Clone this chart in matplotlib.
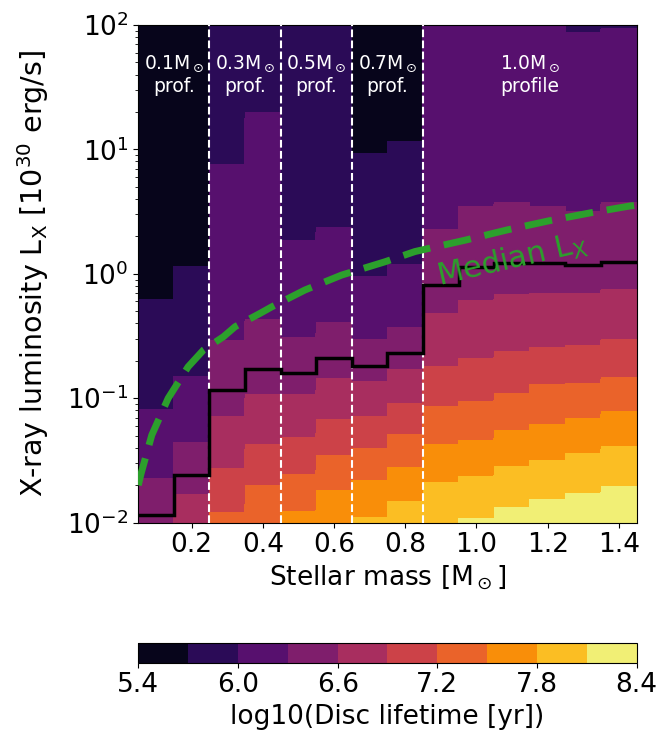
import numpy as np
import matplotlib
matplotlib.use("Agg")
import matplotlib.pyplot as plt

# mass bins (Msun) -- one column per bin
mass_centres = [0.1, 0.2, 0.3, 0.4, 0.5, 0.6, 0.7, 0.8, 0.9, 1.0, 1.1, 1.2, 1.3, 1.4]
mass_edges = [0.05, 0.15, 0.25, 0.35, 0.45, 0.55, 0.65, 0.75, 0.85, 0.95,
              1.05, 1.15, 1.25, 1.35, 1.45]

# lifetime levels log10(t/yr)
levels = [5.4, 5.7, 6.0, 6.3, 6.6, 6.9, 7.2, 7.5, 7.8, 8.1, 8.4]

# index of the lifetime band at the top of each column (Lx = 100)
top_band = [0, 0, 1, 1, 1, 1, 0, 0, 2, 2, 2, 2, 1, 1]

# log10(Lx) where the lifetime crosses into the next band (going down)
band_edges = [
    [-0.21, -1.089, -1.645],
    [0.059, -0.825, -1.357, -1.777],
    [0.881, -0.535, -1.148, -1.567, -1.919],
    [1.296, -0.365, -0.970, -1.371, -1.704],
    [0.266, -0.516, -0.970, -1.312, -1.610, -1.906],
    [0.371, -0.395, -0.841, -1.167, -1.457, -1.744],
    [0.965, -0.024, -0.527, -0.863, -1.145, -1.401, -1.664, -1.957],
    [1.062, 0.073, -0.433, -0.772, -1.043, -1.293, -1.554, -1.831],
    [0.357, -0.317, -0.742, -1.067, -1.371, -1.677],
    [0.540, -0.212, -0.680, -1.027, -1.336, -1.632, -1.970],
    [0.575, -0.164, -0.621, -0.962, -1.261, -1.551, -1.877],
    [0.540, -0.159, -0.589, -0.887, -1.212, -1.498, -1.817],
    [1.941, 0.500, -0.159, -0.573, -0.881, -1.159, -1.446, -1.764],
    [1.973, 0.575, -0.123, -0.524, -0.831, -1.110, -1.387, -1.710],
]

# log10(Lx) of the 3 Myr lifetime in each column (black line)
log_lx_3myr = [-1.938, -1.615, -0.930, -0.764, -0.801, -0.675, -0.737,
               -0.637, -0.09, 0.052, 0.084, 0.089, 0.071, 0.097]

# median Lx relation
median_mass = [0.05, 0.058, 0.088, 0.134, 0.190, 0.233, 0.289, 0.322, 0.392, 0.425,
               0.518, 0.621, 0.743, 0.827, 0.970, 1.085, 1.204, 1.322, 1.431, 1.45]
median_lx = [0.0200, 0.0249, 0.0506, 0.100, 0.179, 0.244, 0.312, 0.376, 0.481, 0.543,
             0.741, 0.977, 1.25, 1.51, 1.87, 2.25, 2.67, 3.10, 3.51, 3.56]

profile_edges = [0.25, 0.45, 0.65, 0.85]
profile_labels = ["0.1M$_\\odot$\nprof.", "0.3M$_\\odot$\nprof.", "0.5M$_\\odot$\nprof.",
                  "0.7M$_\\odot$\nprof.", "1.0M$_\\odot$\nprofile"]
profile_label_x = [0.15, 0.35, 0.55, 0.75, 1.15]

# build lifetime grid from the band crossings
x = np.linspace(0.05, 1.45, 1401)
logy = np.linspace(-2, 2, 1601)
col = np.clip(np.searchsorted(mass_edges, x, side="right") - 1, 0, len(mass_centres) - 1)
profiles = []
for top, edges in zip(top_band, band_edges):
    vals = [levels[top + 1 + k] for k in range(len(edges))]
    xp = [-3.0] + edges[::-1] + [3.0]
    fp = [vals[-1] + 0.15] + vals[::-1] + [levels[top] + 0.15]
    profiles.append(np.interp(logy, xp, fp))
profiles = np.array(profiles)
Z = profiles[col].T
X, Y = np.meshgrid(x, 10 ** logy)

fig = plt.figure(figsize=(6.6, 7.42), dpi=100)
ax = fig.add_axes([0.2095, 0.2956, 0.7552, 0.6707])
cax = fig.add_axes([0.2095, 0.1070, 0.7552, 0.0270])

cf = ax.contourf(X, Y, Z, levels=levels, cmap="inferno")
ax.set_yscale("log")
ax.set_xlim(0.05, 1.45)
ax.set_ylim(1e-2, 1e2)

ax.stairs(10 ** np.array(log_lx_3myr), mass_edges, baseline=None, color="black", lw=2.5, zorder=4)
ax.plot(median_mass, median_lx, color="#2ca02c", lw=5, dashes=(4, 2), zorder=5)
ax.text(1.10, 1.30, "Median L$_\\mathrm{X}$", color="#2ca02c", fontsize=22,
        rotation=13, ha="center", va="center", zorder=5)

for xe in profile_edges:
    ax.axvline(xe, color="white", ls="--", lw=1.5, zorder=3)
for xl, lab in zip(profile_label_x, profile_labels):
    ax.text(xl, 40, lab, color="white", fontsize=13.5, ha="center", va="center")

ax.set_xticks([0.2, 0.4, 0.6, 0.8, 1.0, 1.2, 1.4])
ax.tick_params(labelsize=19)
ax.set_xlabel("Stellar mass [M$_\\odot$]", fontsize=19)
ax.set_ylabel("X-ray luminosity L$_\\mathrm{X}$ [10$^{30}$ erg/s]", fontsize=20.5, labelpad=12)

cb = fig.colorbar(cf, cax=cax, orientation="horizontal", ticks=[5.4, 6.0, 6.6, 7.2, 7.8, 8.4])
cb.ax.tick_params(labelsize=19)
cb.set_label("log10(Disc lifetime [yr])", fontsize=19)

fig.savefig("out.png", dpi=100)
